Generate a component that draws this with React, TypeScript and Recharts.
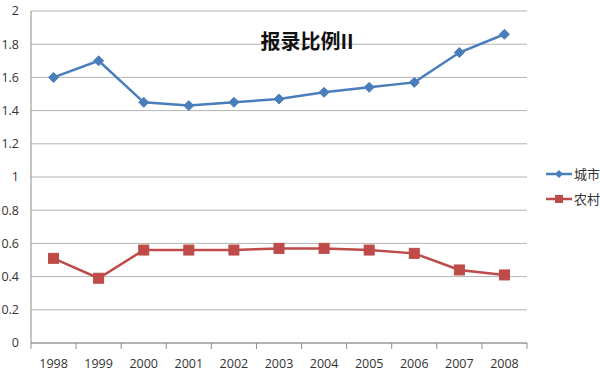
import { LineChart, Line, XAxis, YAxis, CartesianGrid } from 'recharts'

const years = ['1998', '1999', '2000', '2001', '2002', '2003', '2004', '2005', '2006', '2007', '2008']
const cityValues = [1.6, 1.7, 1.45, 1.43, 1.45, 1.47, 1.51, 1.54, 1.57, 1.75, 1.86]
const ruralValues = [0.51, 0.39, 0.56, 0.56, 0.56, 0.57, 0.57, 0.56, 0.54, 0.44, 0.41]
const yTicks = [0, 0.2, 0.4, 0.6, 0.8, 1, 1.2, 1.4, 1.6, 1.8, 2]

const BLUE = '#4a7ebb'
const RED = '#be4b48'
const FONT = '"Open Sans", "Noto Sans CJK SC", sans-serif'

const data = years.map((y, i) => ({ idx: i, year: y, city: cityValues[i], rural: ruralValues[i] }))
const catTicks = years.map((_, i) => i)
const boundaryTicks = [...years.map((_, i) => i - 0.5), years.length - 0.5]

function Diamond(props: any) {
  const { cx, cy } = props
  if (cx == null || cy == null) return null
  return <path d={`M${cx},${cy - 5}L${cx + 5},${cy}L${cx},${cy + 5}L${cx - 5},${cy}Z`} fill={BLUE} stroke={BLUE} />
}

function Square(props: any) {
  const { cx, cy } = props
  if (cx == null || cy == null) return null
  return <rect x={cx - 5} y={cy - 5} width={10} height={10} fill={RED} stroke={RED} />
}

function LegendBox() {
  const items = [
    { name: '城市', color: BLUE, shape: 'diamond' },
    { name: '农村', color: RED, shape: 'square' },
  ]
  return (
    <div style={{ position: 'absolute', left: 546, top: 161, fontFamily: FONT, fontSize: 13, color: '#333' }}>
      {items.map((it) => (
        <div key={it.name} style={{ display: 'flex', alignItems: 'center', height: 25 }}>
          <svg width={26} height={12}>
            <line x1={0} y1={6} x2={26} y2={6} stroke={it.color} strokeWidth={2.5} />
            {it.shape === 'diamond' ? (
              <path d="M13,2L17,6L13,10L9,6Z" fill={it.color} />
            ) : (
              <rect x={9} y={2} width={8} height={8} fill={it.color} />
            )}
          </svg>
          <span style={{ marginLeft: 2 }}>{it.name}</span>
        </div>
      ))}
    </div>
  )
}

export default function App() {
  return (
    <div style={{ position: 'absolute', left: 0, top: 0, width: 600, height: 375, background: '#fff' }}>
      <LineChart width={600} height={375} data={data} margin={{ top: 11, right: 73, bottom: 0, left: 0 }}>
        <CartesianGrid vertical={false} stroke="#b3b3b3" />
        {/* labels axis (outer) */}
        <XAxis
          xAxisId="labels"
          dataKey="idx"
          type="number"
          domain={[-0.5, years.length - 0.5]}
          ticks={catTicks}
          tickFormatter={(v: number) => years[v]}
          axisLine={false}
          tickLine={false}
          tickMargin={9}
          height={31}
          tick={{ fontFamily: FONT, fontSize: 12.5, fill: '#333' }}
          interval={0}
        />
        {/* default axis: line + tick marks between categories */}
        <XAxis
          dataKey="idx"
          type="number"
          domain={[-0.5, years.length - 0.5]}
          ticks={boundaryTicks}
          tickFormatter={() => ''}
          tickLine={{ stroke: '#8c8c8c' }}
          tickSize={6}
          height={1}
          stroke="#8c8c8c"
          interval={0}
        />
        <YAxis
          domain={[0, 2]}
          ticks={yTicks}
          width={31}
          tickLine={false}
          tickMargin={6}
          stroke="#8c8c8c"
          tick={{ fontFamily: FONT, fontSize: 12.5, fill: '#333' }}
          interval={0}
        />
        <Line
          dataKey="city"
          name="城市"
          stroke={BLUE}
          strokeWidth={2.5}
          dot={<Diamond />}
          isAnimationActive={false}
        />
        <Line
          dataKey="rural"
          name="农村"
          stroke={RED}
          strokeWidth={2.5}
          dot={<Square />}
          isAnimationActive={false}
        />
      </LineChart>
      <LegendBox />
      <div
        style={{
          position: 'absolute',
          left: 200,
          width: 214,
          top: 26,
          textAlign: 'center',
          fontFamily: '"Noto Sans CJK SC", serif',
          fontWeight: 'bold',
          fontSize: 20,
          color: '#111',
        }}
      >
        报录比例II
      </div>
    </div>
  )
}
